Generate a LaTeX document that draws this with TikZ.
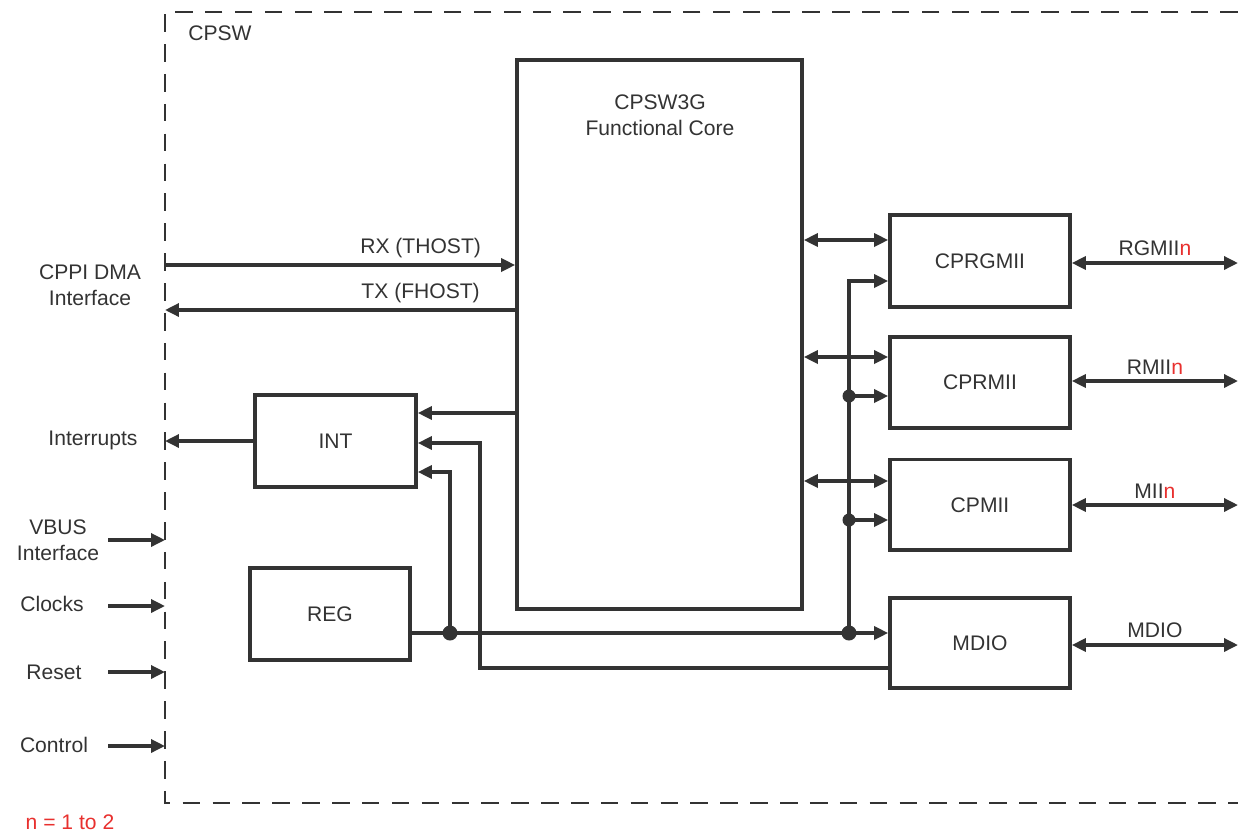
\documentclass[tikz,border=0pt]{standalone}
\usepackage{xcolor}
\usepackage{fontspec}
\setmainfont{Liberation Sans}
\usepackage{tikz}
\usetikzlibrary{arrows.meta,positioning}

\definecolor{ink}{HTML}{333333}
\definecolor{nred}{HTML}{E8302E}

\begin{document}
\begin{tikzpicture}[
  x=0.02cm, y=-0.02cm,
  every node/.style={text=ink, font=\fontsize{12}{14.5}\selectfont},
  box/.style={draw=ink, line width=2.1pt, align=center, inner sep=0pt},
  arr/.style={-{Triangle[length=2.8mm,width=2.6mm]}, line width=1.9pt, draw=ink},
  dbl/.style={{Triangle[length=2.8mm,width=2.6mm]}-{Triangle[length=2.8mm,width=2.6mm]},
              line width=1.9pt, draw=ink},
  frame/.style={draw=ink, line width=1.6pt, dash pattern=on 10pt off 7pt},
  lbl/.style={align=center, inner sep=1pt},
  jdot/.style={fill=ink}
]
\useasboundingbox (0,0) rectangle (1238,833);

% outer CPSW frame
\draw[frame] (1238,12) -- (165,12) -- (165,803) -- (1238,803);
\node[lbl] (cpsw) at (220,33) {CPSW};

% blocks
\node[box, minimum width=5.7cm, minimum height=10.98cm] (core) at (659.5,334.5) {};
\node[lbl] (coretxt) at (660,115) {CPSW3G\\Functional Core};

\node[box, minimum width=3.6cm, minimum height=1.84cm] (cprgmii) at (980,261) {CPRGMII};
\node[box, minimum width=3.6cm, minimum height=1.82cm, below=0.52cm of cprgmii] (cprmii) {CPRMII};
\node[box, minimum width=3.6cm, minimum height=1.82cm, below=0.56cm of cprmii] (cpmii) {CPMII};
\node[box, minimum width=3.6cm, minimum height=1.8cm, below=0.88cm of cpmii] (mdio) {MDIO};

\node[box, minimum width=3.22cm, minimum height=1.84cm] (int) at (335.5,441) {INT};
\node[box, minimum width=3.2cm, minimum height=1.84cm] (reg) at (330,614) {REG};

% left side labels
\node[lbl] (cppi) at (90,285) {CPPI DMA\\Interface};
\node[lbl] (irq) at (93,440) {Interrupts};
\node[lbl] (vbus) at (58,540) {VBUS\\Interface};
\node[lbl] (clk) at (52,604) {Clocks};
\node[lbl] (rst) at (54,672) {Reset};
\node[lbl] (ctl) at (54,745) {Control};
\node[lbl, text=nred] (note) at (70,822) {n = 1 to 2};

\coordinate (rxin) at (165,265);
\coordinate (txout) at (165,310);
\coordinate (vbusin) at (108,540);
\coordinate (clkin) at (108,606);
\coordinate (rstin) at (108,672);
\coordinate (ctlin) at (108,746);

\draw[arr] (rxin) -- (rxin -| core.west) node[lbl, pos=0.73, above=2pt] (rxl) {RX (THOST)};
\draw[arr] (txout -| core.west) -- (txout) node[lbl, pos=0.27, above=2pt] (txl) {TX (FHOST)};
\draw[arr] (int.west) -- (int.west -| rxin);
\draw[arr] (vbusin) -- (vbusin -| rxin);
\draw[arr] (clkin) -- (clkin -| rxin);
\draw[arr] (rstin) -- (rstin -| rxin);
\draw[arr] (ctlin) -- (ctlin -| rxin);

% INT inputs
\coordinate (i1) at (416,413);
\coordinate (i2) at (416,443);
\coordinate (i3) at (416,472);
\coordinate (mdint) at (480,668);
\coordinate (bus) at (450,633);
\coordinate (vb) at (849,633);

\draw[arr] (i1 -| core.west) -- (int.east |- i1);
\draw[arr] (mdint -| mdio.west) -- (mdint) |- (int.east |- i2);
\draw[arr] (reg.east |- bus) -- (bus -| mdio.west);
\draw[arr] (bus) |- (int.east |- i3);

% core to ports
\coordinate (d1) at (803,240);
\coordinate (d2) at (803,357);
\coordinate (d3) at (803,481);
\draw[dbl] (d1 -| core.east) -- (d1 -| cprgmii.west);
\draw[dbl] (d2 -| core.east) -- (d2 -| cprmii.west);
\draw[dbl] (d3 -| core.east) -- (d3 -| cpmii.west);

% MDIO bus to ports
\coordinate (m1) at (849,281);
\coordinate (m2) at (849,396);
\coordinate (m3) at (849,520);
\draw[arr] (vb) -- (m1) -- (m1 -| cprgmii.west);
\draw[arr] (m2) -- (m2 -| cprmii.west);
\draw[arr] (m3) -- (m3 -| cpmii.west);

\fill[jdot] (bus) circle[radius=0.15cm];
\fill[jdot] (vb) circle[radius=0.15cm];
\fill[jdot] (m2) circle[radius=0.13cm];
\fill[jdot] (m3) circle[radius=0.13cm];

% external ports
\coordinate (redge) at (1238,0);
\draw[dbl] (cprgmii.east |- 0,263) -- (redge |- 0,263) node[lbl, midway, above=2pt] (rgl) {RGMII\textcolor{nred}{n}};
\draw[dbl] (cprmii.east |- 0,381) -- (redge |- 0,381) node[lbl, midway, above=2pt] (rml) {RMII\textcolor{nred}{n}};
\draw[dbl] (cpmii.east |- 0,505) -- (redge |- 0,505) node[lbl, midway, above=2pt] (mil) {MII\textcolor{nred}{n}};
\draw[dbl] (mdio.east |- 0,645) -- (redge |- 0,645) node[lbl, midway, above=2pt] (mdl) {MDIO};
\end{tikzpicture}
\end{document}
